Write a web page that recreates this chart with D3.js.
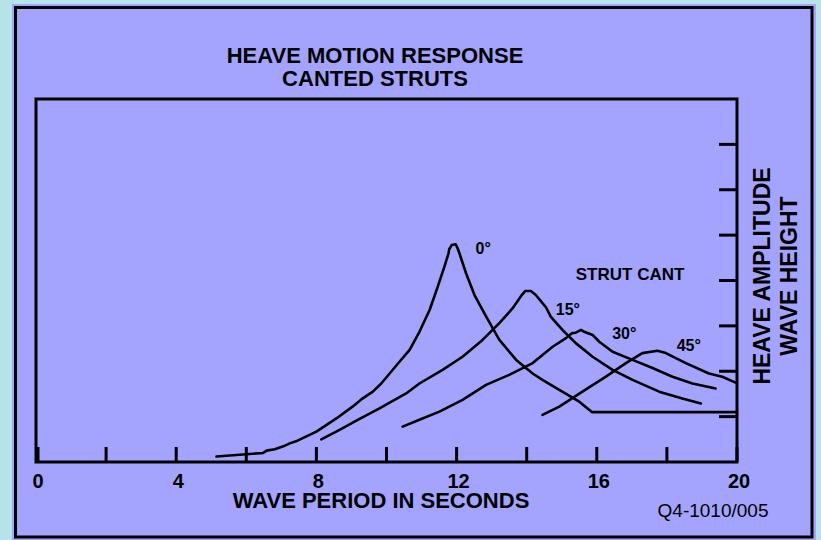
<!DOCTYPE html>
<html>
<head>
<meta charset="utf-8">
<script src="https://cdn.jsdelivr.net/npm/d3@7"></script>
<style>
  html, body { margin: 0; padding: 0; background: #b6e2ea; }
  svg { display: block; }
  text { font-family: "Liberation Sans", Arial, sans-serif; fill: #000; }
</style>
</head>
<body>
<div id="chart"></div>
<script>
// Data: [wave period (s), heave amplitude / wave height]
const cant0 = [
  [5.15, 0.12], [6.48, 0.20], [6.58, 0.25], [6.81, 0.28], [7.04, 0.34], [7.24, 0.41],
  [7.46, 0.47], [8.0, 0.67], [8.57, 0.96], [9.03, 1.22], [9.28, 1.38], [9.61, 1.55],
  [9.85, 1.73], [10.37, 2.21], [10.66, 2.47], [10.94, 2.87], [11.23, 3.35], [11.46, 3.86],
  [11.65, 4.30], [11.77, 4.60], [11.79, 4.69], [11.86, 4.78], [11.97, 4.80], [12.03, 4.71],
  [12.08, 4.60], [12.27, 4.16], [12.51, 3.68], [12.84, 3.21], [13.22, 2.69], [13.70, 2.25],
  [14.17, 1.95], [14.45, 1.81], [14.93, 1.59], [15.50, 1.33], [15.86, 1.10], [20, 1.10]
];
const cant15 = [
  [8.14, 0.50], [8.66, 0.71], [9.14, 0.91], [9.80, 1.18], [10.56, 1.51], [10.94, 1.73],
  [11.60, 2.03], [12.17, 2.32], [12.74, 2.69], [13.22, 3.06], [13.60, 3.39], [13.84, 3.66],
  [13.96, 3.77], [14.12, 3.77], [14.26, 3.68], [14.45, 3.50], [14.55, 3.41], [14.69, 3.20],
  [15.02, 2.91], [15.40, 2.62], [15.88, 2.32], [16.45, 2.03], [17.02, 1.81], [17.78, 1.55],
  [18.44, 1.40], [18.97, 1.29]
];
const cant30 = [
  [10.46, 0.78], [10.94, 0.93], [11.51, 1.11], [12.17, 1.37], [12.84, 1.70], [13.50, 1.92],
  [14.17, 2.18], [14.74, 2.54], [15.12, 2.73], [15.29, 2.84], [15.40, 2.85], [15.55, 2.91],
  [15.64, 2.87], [15.88, 2.80], [16.07, 2.65], [16.45, 2.43], [17.02, 2.25], [17.59, 2.07],
  [18.16, 1.88], [18.73, 1.73], [19.39, 1.62]
];
const cant45 = [
  [14.45, 1.04], [14.93, 1.22], [15.59, 1.55], [16.26, 1.88], [16.83, 2.18], [17.30, 2.40],
  [17.73, 2.45], [17.97, 2.40], [18.54, 2.18], [19.20, 1.95], [19.58, 1.88], [19.96, 1.75]
];

// Curve labels [text, x, y] in data units
const curveLabels = [
  ["0°", 12.54, 4.58],
  ["15°", 14.83, 3.24],
  ["30°", 16.44, 2.71],
  ["45°", 18.28, 2.45]
];

const xTickLabels = [0, 4, 8, 12, 16, 20];
const xMinorTicks = d3.range(0, 21, 2);
const yTicks = d3.range(1, 8);

const titleLines = ["HEAVE MOTION RESPONSE", "CANTED STRUTS"];
const yTitleLines = ["HEAVE AMPLITUDE", "WAVE HEIGHT"];

// Layout
const width = 821;
const height = 540;
const plotLeft = 36, plotRight = 737, plotTop = 99, plotBottom = 462;

const svg = d3.select("#chart")
  .append("svg")
  .attr("width", width)
  .attr("height", height);

// Lavender panel with black border
svg.append("rect")
  .attr("x", 12).attr("y", 4)
  .attr("width", 804).attr("height", 540)
  .attr("fill", "#a4a4fe");
svg.append("rect")
  .attr("x", 15.5).attr("y", 7.5)
  .attr("width", 796.5).attr("height", 529.5)
  .attr("fill", "none")
  .attr("stroke", "#000")
  .attr("stroke-width", 3);

const x = d3.scaleLinear().domain([0, 20]).range([plotLeft, plotRight]);
const y = d3.scaleLinear().domain([0, 8]).range([plotBottom, plotTop]);

// Title
svg.append("text")
  .attr("text-anchor", "middle")
  .style("font-size", "22px")
  .style("font-weight", "bold")
  .selectAll("tspan")
  .data(titleLines)
  .enter()
  .append("tspan")
  .attr("x", 375)
  .attr("y", (d, i) => 63 + i * 23)
  .text((d) => d);

// Plot frame
svg.append("path")
  .attr("d", `M${x(0)},${y(0)}V${y(8)}H${x(20)}V${y(0)}Z`)
  .attr("fill", "none")
  .attr("stroke", "#000")
  .attr("stroke-width", 3)
  .attr("stroke-linecap", "square");

// Bottom axis ticks (pointing up into the plot)
svg.append("g")
  .selectAll("line")
  .data(xMinorTicks)
  .enter()
  .append("line")
  .attr("x1", (d) => x(d) + (d === 0 ? 2 : 0))
  .attr("x2", (d) => x(d) + (d === 0 ? 2 : 0))
  .attr("y1", y(0))
  .attr("y2", y(0) - 15)
  .attr("stroke", "#000")
  .attr("stroke-width", 3);

// Bottom tick labels
svg.append("g")
  .selectAll("text")
  .data(xTickLabels)
  .enter()
  .append("text")
  .attr("x", (d) => x(d) + 2)
  .attr("y", 488)
  .attr("text-anchor", "middle")
  .style("font-size", "20px")
  .style("font-weight", "bold")
  .text((d) => d);

// Right axis ticks (pointing left into the plot)
svg.append("g")
  .selectAll("line")
  .data(yTicks)
  .enter()
  .append("line")
  .attr("x1", x(20))
  .attr("x2", x(20) - 18)
  .attr("y1", (d) => y(d))
  .attr("y2", (d) => y(d))
  .attr("stroke", "#000")
  .attr("stroke-width", 3);

// X title
svg.append("text")
  .attr("x", 381)
  .attr("y", 508)
  .attr("text-anchor", "middle")
  .style("font-size", "22px")
  .style("font-weight", "bold")
  .text("WAVE PERIOD IN SECONDS");

// Drawing number
svg.append("text")
  .attr("x", 713)
  .attr("y", 517)
  .attr("text-anchor", "middle")
  .style("font-size", "19px")
  .text("Q4-1010/005");

// Right-side rotated title
svg.append("g")
  .selectAll("text")
  .data(yTitleLines)
  .enter()
  .append("text")
  .attr("transform", (d, i) => `translate(${770 + i * 27},276) rotate(-90)`)
  .attr("text-anchor", "middle")
  .style("font-size", "23px")
  .style("font-weight", "bold")
  .text((d) => d);

// Response curves
const line = d3.line()
  .x((d) => x(d[0]))
  .y((d) => y(d[1]));

svg.append("g")
  .selectAll("path")
  .data([cant0, cant15, cant30, cant45])
  .enter()
  .append("path")
  .attr("d", line)
  .attr("fill", "none")
  .attr("stroke", "#000")
  .attr("stroke-width", 2.6)
  .attr("stroke-linejoin", "round")
  .attr("stroke-linecap", "round");

// Curve labels
svg.append("g")
  .selectAll("text")
  .data(curveLabels)
  .enter()
  .append("text")
  .attr("x", (d) => x(d[1]))
  .attr("y", (d) => y(d[2]))
  .style("font-size", "16px")
  .style("font-weight", "bold")
  .text((d) => d[0]);

svg.append("text")
  .attr("x", x(15.4))
  .attr("y", y(4.01))
  .style("font-size", "17px")
  .style("font-weight", "bold")
  .text("STRUT CANT");
</script>
</body>
</html>
